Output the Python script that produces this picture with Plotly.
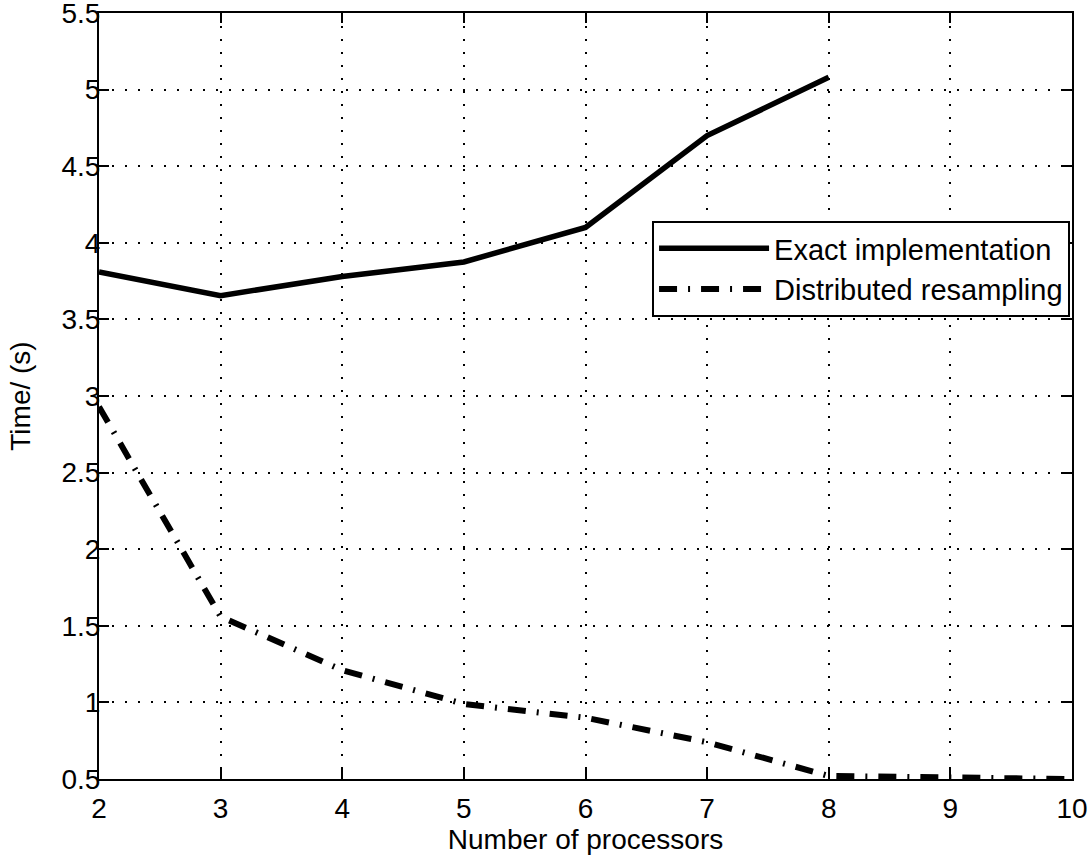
import plotly.graph_objects as go

processors_exact = [2, 3, 4, 5, 6, 7, 8]
time_exact = [3.81, 3.655, 3.78, 3.875, 4.10, 4.70, 5.08]

processors_dist = [2, 3, 4, 5, 6, 7, 8, 9, 10]
time_dist = [2.93, 1.56, 1.21, 0.99, 0.90, 0.74, 0.52, 0.51, 0.50]

x_ticks = [2, 3, 4, 5, 6, 7, 8, 9, 10]
y_ticks = [0.5, 1, 1.5, 2, 2.5, 3, 3.5, 4, 4.5, 5, 5.5]
y_tick_labels = ["0.5", "1", "1.5", "2", "2.5", "3", "3.5", "4", "4.5", "5", "5.5"]

FONT = "Liberation Sans, Arial, Helvetica, sans-serif"

fig = go.Figure()
fig.add_trace(go.Scatter(
    x=processors_exact, y=time_exact, mode="lines",
    name="Exact implementation",
    line=dict(color="black", width=5.5),
))
fig.add_trace(go.Scatter(
    x=processors_dist, y=time_dist, mode="lines",
    name="Distributed resampling",
    line=dict(color="black", width=6, dash="18px,11px,2px,11px"),
))

axis_common = dict(
    showline=True, linecolor="black", linewidth=2, mirror="ticks",
    ticks="inside", ticklen=10, tickwidth=1.5, tickcolor="black",
    showgrid=True, gridcolor="black", gridwidth=1.5, griddash="2px,11px",
    zeroline=False, automargin=False, ticklabeloverflow="allow",
    tickfont=dict(family=FONT, size=28, color="black"),
)

fig.update_layout(
    width=1090, height=858,
    margin=dict(l=99, r=18, t=13, b=79),
    paper_bgcolor="white", plot_bgcolor="white",
    font=dict(family=FONT, size=28, color="black"),
    xaxis=dict(
        range=[2, 10], tickvals=x_ticks, ticktext=[str(v) for v in x_ticks],
        ticklabelstandoff=3,
        title=dict(text="Number of processors", font=dict(family=FONT, size=28, color="black"), standoff=6),
        **axis_common,
    ),
    yaxis=dict(
        range=[0.5, 5.5], tickvals=y_ticks, ticktext=y_tick_labels,
        ticklabelstandoff=-9,
        title=dict(text="Time/ (s)", font=dict(family=FONT, size=28, color="black"), standoff=23),
        **axis_common,
    ),
    legend=dict(
        x=0.998, xanchor="right", y=0.7285, yanchor="top",
        bgcolor="white", bordercolor="black", borderwidth=2,
        font=dict(family=FONT, size=29, color="black"),
        itemwidth=110,
        tracegroupgap=0,
    ),
    showlegend=True,
)

fig.write_html(
    "out.html",
    config={"displayModeBar": False},
    post_script="document.body.style.margin='0';document.body.style.padding='0';document.body.style.overflow='hidden';",
)
